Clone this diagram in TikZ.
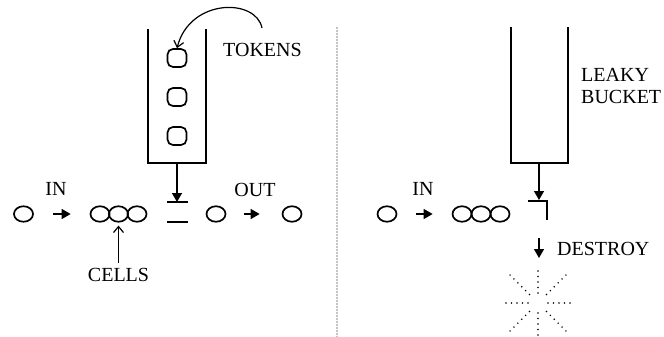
\documentclass[tikz,border=0pt]{standalone}
\usepackage{fontspec}
\setmainfont{Liberation Serif}
\usetikzlibrary{arrows.meta,shapes.geometric,calc}
\begin{document}
\begin{tikzpicture}[x=1pt,y=-1pt,
  cell/.style={draw,ellipse,line width=1.7pt,minimum width=19pt,minimum height=15.5pt,inner sep=0pt},
  token/.style={draw,rounded corners=5.5pt,line width=1.7pt,minimum width=19pt,minimum height=18pt,inner sep=0pt},
  lbl/.style={font=\fontsize{20}{22}\selectfont,inner sep=0pt},
  wall/.style={line width=1.5pt},
  fat/.style={-{Triangle[length=9pt,width=10pt]},line width=1.4pt},
  thin/.style={-{Straight Barb[length=6pt,width=10pt]},line width=1.2pt},
  ray/.style={line width=1.6pt,line cap=round,dash pattern=on 0pt off 5.5pt}]
\useasboundingbox[fill=white] (0,0) rectangle (664,337);

% ---------- left panel ----------
\draw[wall] (148,29) -- (148,163) -- (206,163) -- (206,29);
\node[token] (t1) at (177,58) {};
\node[token] (t2) at (177,97) {};
\node[token] (t3) at (177,136) {};
\node[lbl,anchor=west] (tokens) at (223,50) {TOKENS};
\coordinate (tokc) at (262,28);
\draw[thin] (tokc) .. controls (256,-2) and (190,-2) .. (t1.north);

\coordinate (lbb) at (177,163);
\coordinate (lgate) at (177,202);
\draw[fat] (lbb) -- (lgate);
\draw[wall] (167,202) -- (188,202);
\draw[wall] (167,222) -- (188,222);

\node[cell] (a0) at (23.5,214) {};
\node[lbl] (inL) at (56,189) {IN};
\node[cell] (a1) at (100,214) {};
\node[cell] (a2) at (118.5,214) {};
\node[cell] (a3) at (137,214) {};
\draw[fat,shorten <=19pt,shorten >=19pt] (a0) -- (a1);
\node[cell] (o1) at (216,214) {};
\node[cell] (o2) at (292,214) {};
\node[lbl] (outL) at (255,190) {OUT};
\draw[fat,shorten <=18pt,shorten >=22pt] (o1) -- (o2);

\node[lbl] (cells) at (118.5,275) {CELLS};
\draw[thin,shorten <=5pt,shorten >=3pt] (cells.north) -- (a2.south);

% ---------- divider ----------
\draw[line width=1.1pt,line cap=round,dash pattern=on 0pt off 3pt] (337,28) -- (337,337);

% ---------- right panel ----------
\draw[wall] (511,27) -- (511,163) -- (568,163) -- (568,27);
\node[lbl,anchor=west] (leaky) at (581,75) {LEAKY};
\node[lbl,anchor=west] (bucket) at (581,97) {BUCKET};

\coordinate (rbb) at (539,163);
\coordinate (rgate) at (539,200);
\draw[fat] (rbb) -- (rgate);
\draw[wall] (528,201) -- (547,201) -- (547,220);

\node[cell] (b0) at (387,214) {};
\node[lbl] (inR) at (423,189) {IN};
\node[cell] (b1) at (462,214) {};
\node[cell] (b2) at (481,214) {};
\node[cell] (b3) at (500,214) {};
\draw[fat,shorten <=19pt,shorten >=19pt] (b0) -- (b1);

\coordinate (d1) at (539,238);
\coordinate (d2) at (539,258);
\draw[fat] (d1) -- (d2);
\node[lbl,anchor=west] (destroy) at (557,248.5) {DESTROY};

\coordinate (burst) at (538,303);
\foreach \a in {0,180} \draw[ray] ($(burst)+(\a:10)$) -- ($(burst)+(\a:35)$);
\foreach \a in {90,270} \draw[ray] ($(burst)+(\a:10)$) -- ($(burst)+(\a:35)$);
\foreach \a in {45,135,225,315} \draw[ray] ($(burst)+(\a:12)$) -- ($(burst)+(\a:42)$);
\end{tikzpicture}
\end{document}
